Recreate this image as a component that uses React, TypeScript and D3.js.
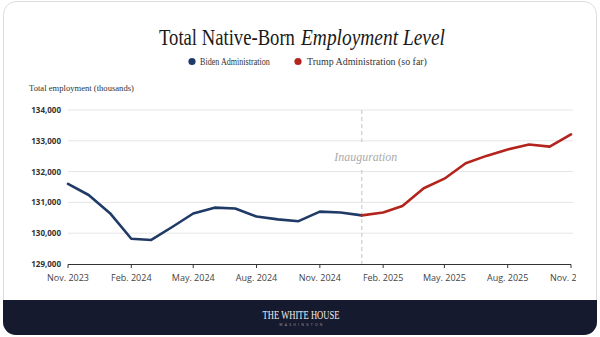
import React, { useLayoutEffect, useRef } from "react";
import * as d3 from "d3";

const bidenMonths = ["2023-11", "2023-12", "2024-01", "2024-02", "2024-03", "2024-04", "2024-05", "2024-06", "2024-07", "2024-08", "2024-09", "2024-10", "2024-11", "2024-12", "2025-01"];
const bidenValues = [131600, 131240, 130650, 129820, 129780, 130210, 130640, 130830, 130800, 130540, 130450, 130390, 130700, 130670, 130580];
const trumpMonths = ["2025-01", "2025-02", "2025-03", "2025-04", "2025-05", "2025-06", "2025-07", "2025-08", "2025-09", "2025-10", "2025-11"];
const trumpValues = [130580, 130670, 130880, 131460, 131770, 132270, 132510, 132720, 132880, 132810, 133210];
const xTickMonths = ["2023-11", "2024-02", "2024-05", "2024-08", "2024-11", "2025-02", "2025-05", "2025-08", "2025-11"];
const yTicks = [129000, 130000, 131000, 132000, 133000, 134000];
const inaugurationMonth = "2025-01";

const parse = (s: string) => {
  const [y, m] = s.split("-").map(Number);
  return new Date(y, m - 1, 1);
};
const monthNames = ["Jan.", "Feb.", "Mar.", "Apr.", "May.", "Jun.", "Jul.", "Aug.", "Sep.", "Oct.", "Nov.", "Dec."];

const BIDEN = "#1f3a66";
const TRUMP = "#b3241d";
const SERIF = "'Liberation Serif', 'DejaVu Serif', serif";
const SANS = "'Open Sans', 'Noto Sans', sans-serif";

function FitText(props: { x: number; y: number; width: number; anchor?: string; children: React.ReactNode; [k: string]: any }) {
  const { x, y, width, anchor, children, ...rest } = props;
  const gRef = useRef<SVGGElement>(null);
  const tRef = useRef<SVGTextElement>(null);
  useLayoutEffect(() => {
    if (!tRef.current || !gRef.current) return;
    const w = tRef.current.getComputedTextLength();
    const s = w > 0 ? width / w : 1;
    gRef.current.setAttribute("transform", `translate(${x},${y}) scale(${s},1)`);
  });
  return (
    <g ref={gRef} transform={`translate(${x},${y})`}>
      <text ref={tRef} x={0} y={0} textAnchor={anchor || "start"} {...rest}>{children}</text>
    </g>
  );
}

export default function App() {
  const W = 600, H = 337;
  const x = d3.scaleTime().domain([parse("2023-11"), parse("2025-11")]).range([68, 571]);
  const y = d3.scaleLinear().domain([129000, 134000]).range([264, 110]);
  const line = d3.line<[Date, number]>().x(d => x(d[0])).y(d => y(d[1])).curve(d3.curveLinear);
  const bData: [Date, number][] = bidenMonths.map((m, i) => [parse(m), bidenValues[i]]);
  const tData: [Date, number][] = trumpMonths.map((m, i) => [parse(m), trumpValues[i]]);
  const ix = x(parse(inaugurationMonth));

  return (
    <svg width={W} height={H} style={{ position: "absolute", left: 0, top: 0, display: "block" }}>
      <defs>
        <clipPath id="plotclip">
          <rect x={0} y={0} width={576} height={H} />
        </clipPath>
        <clipPath id="footclip">
          <rect x={3} y={1} width={594} height={334} rx={13} />
        </clipPath>
      </defs>
      <rect x={0} y={0} width={W} height={H} fill="#ffffff" />
      <rect x={3.5} y={1.5} width={593} height={333} rx={13} fill="#ffffff" stroke="#dcdcdc" />
      {/* title */}
      <FitText x={159} y={45} width={136} fontFamily={SERIF} fontSize={24} fill="#1a1a1a">Total Native-Born</FitText>
      <FitText x={301} y={45} width={144} fontFamily={SERIF} fontStyle="italic" fontSize={24} fill="#1a1a1a">Employment Level</FitText>
      {/* legend */}
      <circle cx={192} cy={61.5} r={3.6} fill={BIDEN} />
      <FitText x={200} y={64.5} width={70} fontFamily={SERIF} fontSize={9.5} fill="#333">Biden Administration</FitText>
      <circle cx={298} cy={61.5} r={3.6} fill={TRUMP} />
      <FitText x={307} y={64.5} width={120} fontFamily={SERIF} fontSize={9.5} fill="#333">Trump Administration (so far)</FitText>
      {/* y title */}
      <FitText x={29} y={91} width={105} fontFamily={SERIF} fontSize={9} fill="#333">Total employment (thousands)</FitText>
      {/* grid */}
      {yTicks.filter(t => t > 129000).map(t => (
        <line key={t} x1={68} x2={573} y1={y(t)} y2={y(t)} stroke="#e5e5e5" strokeWidth={1} />
      ))}
      {yTicks.map(t => (
        <text key={"l" + t} x={61} y={y(t) + 3} textAnchor="end" fontFamily={SANS} fontSize={8} fontWeight={700} fill="#333">
          {d3.format(",")(t)}
        </text>
      ))}
      {/* inauguration */}
      <line x1={ix} x2={ix} y1={110} y2={144} stroke="#c4c4c4" strokeDasharray="4,3" />
      <line x1={ix} x2={ix} y1={170} y2={264} stroke="#c4c4c4" strokeDasharray="4,3" />
      <FitText x={ix + 4} y={161} width={63} anchor="middle" fontFamily={SERIF} fontStyle="italic" fontSize={12} fill="#aaaaaa">Inauguration</FitText>
      {/* axis */}
      <line x1={68} x2={571} y1={264.5} y2={264.5} stroke="#333" strokeWidth={1} />
      <g clipPath="url(#plotclip)">
        {xTickMonths.map(m => {
          const d = parse(m);
          return (
            <g key={m}>
              <line x1={x(d)} x2={x(d)} y1={264.5} y2={268} stroke="#333" />
              <text x={x(d)} y={281} textAnchor="middle" fontFamily={SANS} fontSize={9} fill="#444">
                {monthNames[d.getMonth()] + " " + d.getFullYear()}
              </text>
            </g>
          );
        })}
      </g>
      {/* lines */}
      <path d={line(bData) || ""} fill="none" stroke={BIDEN} strokeWidth={2.6} strokeLinejoin="round" strokeLinecap="round" />
      <path d={line(tData) || ""} fill="none" stroke={TRUMP} strokeWidth={2.6} strokeLinejoin="round" strokeLinecap="round" />
      {/* footer */}
      <g clipPath="url(#footclip)">
        <rect x={0} y={300} width={W} height={40} fill="#161a2e" />
      </g>
      <FitText x={301} y={318.5} width={77} anchor="middle" fontFamily={SERIF} fontSize={12} fill="#f2f2f2">THE WHITE HOUSE</FitText>
      <text x={302} y={325.5} textAnchor="middle" fontFamily={SANS} fontSize={3.5} fill="#9a9aa6" letterSpacing={2.2}>WASHINGTON</text>
    </svg>
  );
}
